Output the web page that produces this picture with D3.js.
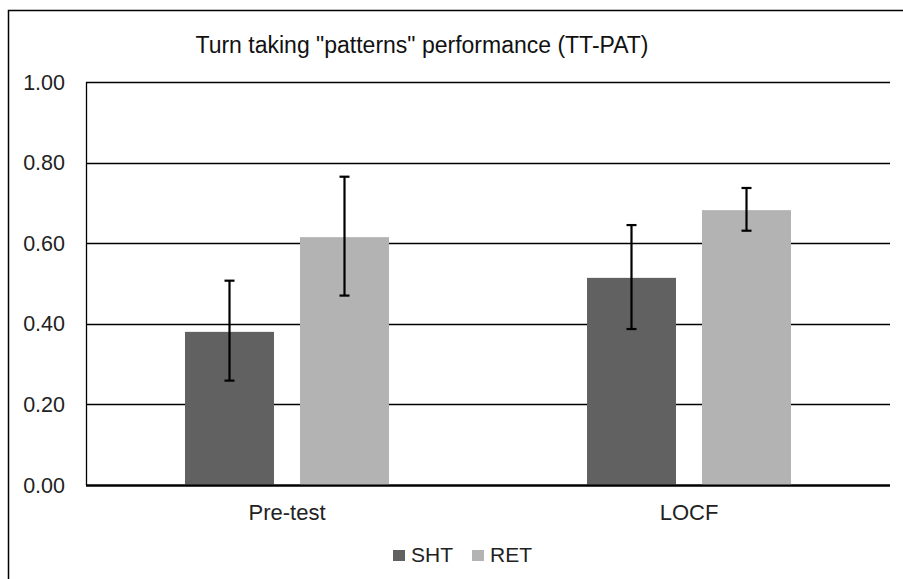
<!DOCTYPE html>
<html>
<head>
<meta charset="utf-8">
<script src="https://cdn.jsdelivr.net/npm/d3@7"></script>
<style>
  body { margin: 0; background: #fff; }
  svg { display: block; font-family: "Liberation Sans", Arial, sans-serif; }
</style>
</head>
<body>
<div id="chart"></div>
<script>
const categories = ["Pre-test", "LOCF"];
const series = ["SHT", "RET"];
const means = { SHT: [0.38, 0.514], RET: [0.615, 0.682] };
const errLow = { SHT: [0.259, 0.387], RET: [0.47, 0.631] };
const errHigh = { SHT: [0.507, 0.645], RET: [0.765, 0.737] };
const yTicks = [0, 0.2, 0.4, 0.6, 0.8, 1.0];
const colors = { SHT: "#616161", RET: "#b3b3b3" };

const width = 903, height = 579;
const margin = { top: 82, right: 13, bottom: 94, left: 86 };

const svg = d3.select("#chart").append("svg")
  .attr("width", width)
  .attr("height", height);

// outer frame
svg.append("rect")
  .attr("x", 8.5).attr("y", 10.5)
  .attr("width", 900).attr("height", 580)
  .attr("fill", "none").attr("stroke", "#000").attr("stroke-width", 1.5);

svg.append("text")
  .attr("x", 422).attr("y", 53)
  .attr("text-anchor", "middle")
  .attr("font-size", 23)
  .attr("fill", "#111")
  .text('Turn taking "patterns" performance (TT-PAT)');

const y = d3.scaleLinear().domain([0, 1]).range([height - margin.bottom, margin.top]);
const x0 = d3.scaleBand().domain(categories)
  .range([margin.left, width - margin.right])
  .paddingInner(0.4925).paddingOuter(0.24625);
const x1 = d3.scaleBand().domain(series)
  .range([0, x0.bandwidth()])
  .paddingInner(0.226);

// gridlines
svg.append("g")
  .selectAll("line")
  .data(yTicks)
  .join("line")
  .attr("x1", margin.left).attr("x2", width - margin.right)
  .attr("y1", (d) => Math.round(y(d)) + 0.5).attr("y2", (d) => Math.round(y(d)) + 0.5)
  .attr("stroke", "#000")
  .attr("stroke-width", (d) => (d === 0 ? 2 : 1.3));

// y axis line
svg.append("line")
  .attr("x1", margin.left + 0.5).attr("x2", margin.left + 0.5)
  .attr("y1", y(1)).attr("y2", y(0))
  .attr("stroke", "#000").attr("stroke-width", 1.3);

// y labels
svg.append("g")
  .selectAll("text")
  .data(yTicks)
  .join("text")
  .attr("x", 65)
  .attr("y", (d) => y(d))
  .attr("dy", "0.35em")
  .attr("text-anchor", "end")
  .attr("font-size", 21.5)
  .attr("fill", "#222")
  .text(d3.format(".2f"));

// bars
const groups = svg.append("g")
  .selectAll("g")
  .data(categories)
  .join("g")
  .attr("transform", (d) => `translate(${x0(d)},0)`);

groups.selectAll("rect")
  .data((d, i) => series.map((s) => ({ s, v: means[s][i] })))
  .join("rect")
  .attr("x", (d) => x1(d.s))
  .attr("width", x1.bandwidth())
  .attr("y", (d) => y(d.v))
  .attr("height", (d) => y(0) - y(d.v))
  .attr("fill", (d) => colors[d.s]);

// redraw baseline over bars
svg.append("line")
  .attr("x1", margin.left).attr("x2", width - margin.right)
  .attr("y1", Math.round(y(0)) + 0.5).attr("y2", Math.round(y(0)) + 0.5)
  .attr("stroke", "#000").attr("stroke-width", 2);

// error bars
const err = groups.selectAll("g.err")
  .data((d, i) => series.map((s) => ({ s, lo: errLow[s][i], hi: errHigh[s][i] })))
  .join("g")
  .attr("class", "err")
  .attr("transform", (d) => `translate(${x1(d.s) + x1.bandwidth() / 2},0)`);

err.append("line")
  .attr("y1", (d) => y(d.lo)).attr("y2", (d) => y(d.hi))
  .attr("stroke", "#000").attr("stroke-width", 2.2);
err.selectAll("line.cap")
  .data((d) => [d.lo, d.hi])
  .join("line")
  .attr("class", "cap")
  .attr("x1", -5).attr("x2", 5)
  .attr("y1", (d) => y(d)).attr("y2", (d) => y(d))
  .attr("stroke", "#000").attr("stroke-width", 2.2);

// category labels
svg.append("g")
  .selectAll("text")
  .data(categories)
  .join("text")
  .attr("x", (d) => x0(d) + x0.bandwidth() / 2)
  .attr("y", 520)
  .attr("text-anchor", "middle")
  .attr("font-size", 22)
  .attr("fill", "#222")
  .text((d) => d);

// legend
const legendX = [393, 472];
const legend = svg.append("g")
  .selectAll("g")
  .data(series)
  .join("g")
  .attr("transform", (d, i) => `translate(${legendX[i]},0)`);
legend.append("rect")
  .attr("x", 0).attr("y", 550)
  .attr("width", 12).attr("height", 11)
  .attr("fill", (d) => colors[d]);
legend.append("text")
  .attr("x", 18).attr("y", 562)
  .attr("font-size", 21)
  .attr("fill", "#222")
  .text((d) => d);
</script>
</body>
</html>
